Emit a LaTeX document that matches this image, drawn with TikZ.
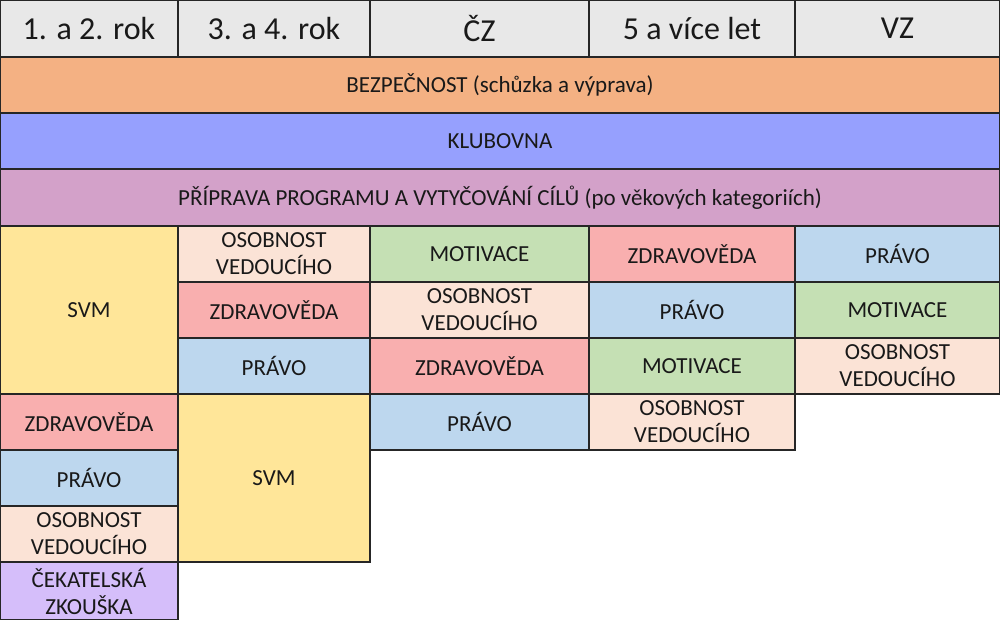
\documentclass[tikz,border=0pt]{standalone}
\usepackage{fontspec}
\setmainfont{Carlito}
\definecolor{hdr}{HTML}{E8E8E8}
\definecolor{bez}{HTML}{F4B183}
\definecolor{klu}{HTML}{96A0FE}
\definecolor{pri}{HTML}{D3A1C9}
\definecolor{svm}{HTML}{FFE699}
\definecolor{zdr}{HTML}{F9AFAF}
\definecolor{pra}{HTML}{BDD7EE}
\definecolor{mot}{HTML}{C5E0B4}
\definecolor{oso}{HTML}{FBE3D6}
\definecolor{cek}{HTML}{D5BEFA}
\tikzset{
  cell/.style={draw=black!85, line width=1.2pt, inner sep=0pt, outer sep=0pt,
    anchor=north west, align=center, text=black!90,
    font=\fontsize{23}{27}\selectfont},
  head/.style={cell, fill=hdr, font=\fontsize{32}{36}\selectfont},
}
\newcommand{\cellbox}[7]{% name, x, y, w, h, colour, text
  \node[cell, fill=#6, minimum width=#4pt, minimum height=#5pt] (#1) at (#2,#3) {#7};}
\begin{document}
\begin{tikzpicture}[x=1pt,y=-1pt]
\useasboundingbox (0,0) rectangle (1000,620);
\fill[white] (0,0) rectangle (1000,620);
% header
\node[head, minimum width=178pt, minimum height=57pt] (h1) at (0,0) {1. a 2. rok};
\node[head, minimum width=192pt, minimum height=57pt] (h2) at (178,0) {3. a 4. rok};
\node[head, minimum width=219pt, minimum height=57pt] (h3) at (370,0) {ČZ};
\node[head, minimum width=206pt, minimum height=57pt] (h4) at (589,0) {5 a více let};
\node[head, minimum width=205pt, minimum height=57pt] (h5) at (795,0) {VZ};
% wide bands
\cellbox{bez}{0}{57}{1000}{56}{bez}{BEZPEČNOST (schůzka a výprava)}
\cellbox{klu}{0}{113}{1000}{56}{klu}{KLUBOVNA}
\cellbox{pri}{0}{169}{1000}{57}{pri}{PŘÍPRAVA PROGRAMU A VYTYČOVÁNÍ CÍLŮ (po věkových kategoriích)}
% column 1
\cellbox{a1}{0}{226}{178}{168}{svm}{SVM}
\cellbox{a2}{0}{394}{178}{56}{zdr}{ZDRAVOVĚDA}
\cellbox{a3}{0}{450}{178}{56}{pra}{PRÁVO}
\cellbox{a4}{0}{506}{178}{56}{oso}{OSOBNOST\\VEDOUCÍHO}
\cellbox{a5}{0}{562}{178}{58}{cek}{ČEKATELSKÁ\\ZKOUŠKA}
% column 2
\cellbox{b1}{178}{226}{192}{56}{oso}{OSOBNOST\\VEDOUCÍHO}
\cellbox{b2}{178}{282}{192}{56}{zdr}{ZDRAVOVĚDA}
\cellbox{b3}{178}{338}{192}{56}{pra}{PRÁVO}
\cellbox{b4}{178}{394}{192}{168}{svm}{SVM}
% column 3
\cellbox{c1}{370}{226}{219}{56}{mot}{MOTIVACE}
\cellbox{c2}{370}{282}{219}{56}{oso}{OSOBNOST\\VEDOUCÍHO}
\cellbox{c3}{370}{338}{219}{56}{zdr}{ZDRAVOVĚDA}
\cellbox{c4}{370}{394}{219}{56}{pra}{PRÁVO}
% column 4
\cellbox{d1}{589}{226}{206}{56}{zdr}{ZDRAVOVĚDA}
\cellbox{d2}{589}{282}{206}{56}{pra}{PRÁVO}
\cellbox{d3}{589}{338}{206}{56}{mot}{MOTIVACE}
\cellbox{d4}{589}{394}{206}{56}{oso}{OSOBNOST\\VEDOUCÍHO}
% column 5
\cellbox{e1}{795}{226}{205}{56}{pra}{PRÁVO}
\cellbox{e2}{795}{282}{205}{56}{mot}{MOTIVACE}
\cellbox{e3}{795}{338}{205}{56}{oso}{OSOBNOST\\VEDOUCÍHO}
\end{tikzpicture}
\end{document}
